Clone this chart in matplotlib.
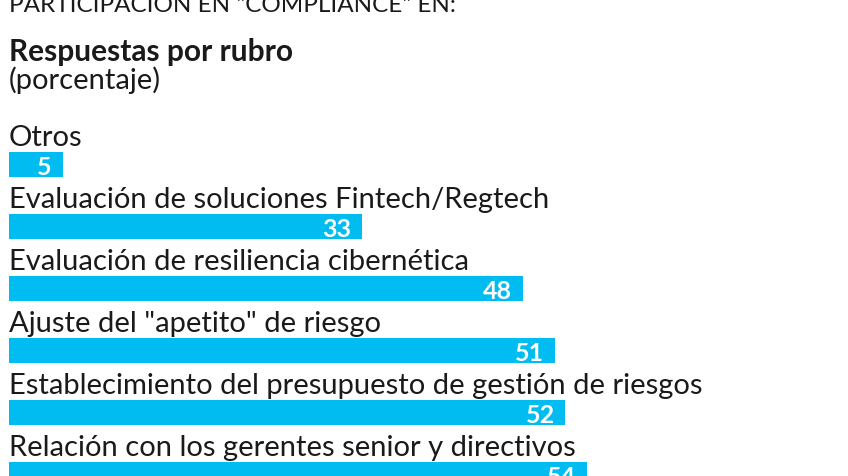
import matplotlib.pyplot as plt
import matplotlib as mpl

mpl.rcParams['font.family'] = ['Lato', 'DejaVu Sans']

categorias = ['Otros',
              'Evaluación de soluciones Fintech/Regtech',
              'Evaluación de resiliencia cibernética',
              'Ajuste del "apetito" de riesgo',
              'Establecimiento del presupuesto de gestión de riesgos',
              'Relación con los gerentes senior y directivos']
valores = [5, 33, 48, 51, 52, 54]

azul = '#00bcf0'
texto = '#1a1a1a'
alto = 0.40

fig = plt.figure(figsize=(8.48, 4.77), dpi=100)
ax = fig.add_axes([0, 0, 1, 1])

pos = list(range(len(valores)))
ax.barh(pos, valores, height=alto, color=azul, left=0)

for i, (cat, v) in enumerate(zip(categorias, valores)):
    ax.text(0, i - alto / 2 - 0.11, cat, fontsize=21, color=texto,
            ha='left', va='baseline')
    ax.text(v - 1.0, i + 0.03, str(v), fontsize=18, fontweight='bold',
            color='white', ha='right', va='center')

# pixel -> datos: x0 en 9 px, 10.7 px por unidad; filas cada 62 px
ax.set_xlim(-9 / 10.7, (848 - 9) / 10.7)
ax.set_ylim((477 - 165.5) / 62, -165.5 / 62)
ax.axis('off')

fig.text(9 / 848, 1 - 12 / 477, 'PARTICIPACIÓN EN "COMPLIANCE" EN:',
         fontsize=17.5, color=texto, ha='left', va='baseline')
fig.text(9 / 848, 1 - 61 / 477, 'Respuestas por rubro', fontsize=21.5,
         fontweight='bold', color=texto, ha='left', va='baseline')
fig.text(9 / 848, 1 - 89 / 477, '(porcentaje)', fontsize=21,
         color=texto, ha='left', va='baseline')

plt.savefig('out.png', dpi=100)
